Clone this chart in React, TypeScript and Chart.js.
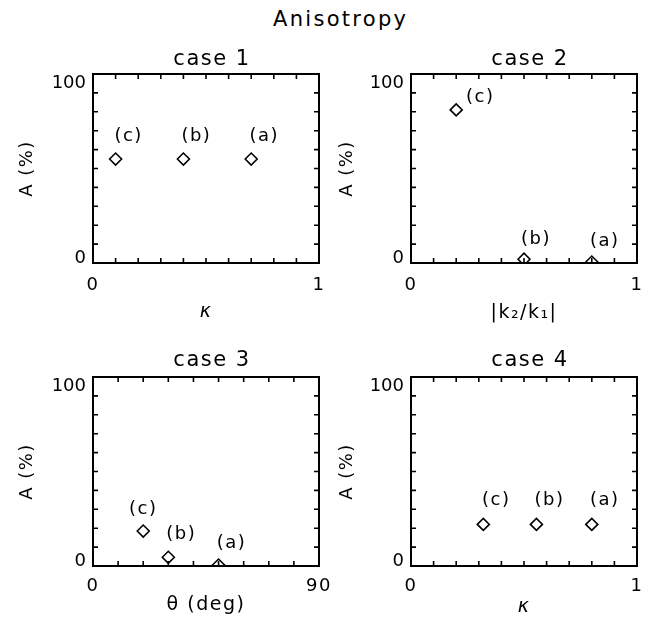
import React, { useEffect, useRef } from 'react';
import { Chart, registerables } from 'chart.js';

Chart.register(...registerables);

// ---------- data ----------
const POINT_LABELS = ['(c)', '(b)', '(a)'];

const CASE1_X = [0.1, 0.4, 0.7];
const CASE1_Y = [55, 55, 55];
const CASE2_X = [0.2, 0.5, 0.8];
const CASE2_Y = [81, 2, 0.5];
const CASE3_X = [20, 30, 50];
const CASE3_Y = [18.5, 4.6, 0.5];
const CASE4_X = [0.32, 0.555, 0.8];
const CASE4_Y = [22, 22, 22];

const UNIT_TICKS = [0, 0.1, 0.2, 0.3, 0.4, 0.5, 0.6, 0.7, 0.8, 0.9, 1];
const UNIT_LABELS = ['0', '1'];
const THETA_TICKS = [0, 10, 20, 30, 40, 50, 60, 70, 80, 90];
const THETA_LABELS = ['0', '90'];
const Y_TICKS = [0, 10, 20, 30, 40, 50, 60, 70, 80, 90, 100];
const Y_LABELS = ['0', '100'];

// ---------- layout / style ----------
const FONT = "'DejaVu Sans', 'Liberation Sans', sans-serif";
const CANVAS_W = 424;
const CANVAS_H = 290;
const AXIS_LEFT = 93;
const PLOT_W = 226;
const PLOT_H = 189;
const PLOT_TOP = 34;
const X_AXIS_H = CANVAS_H - PLOT_TOP - PLOT_H;
const RIGHT_W = CANVAS_W - AXIS_LEFT - PLOT_W;
const COL_X = [0, 318];
const ROW_Y = [40, 343];
const ROW_STYLE = [
  { titleTop: 6.8, titleBottom: 2.0, xTickPad: 12 },
  { titleTop: 5.4, titleBottom: 3.4, xTickPad: 10 },
];
const COL_STYLE = [{ yTitlePad: 16.4 }, { yTitlePad: 18.5 }];

type Panel = {
  title: string;
  xs: number[];
  ys: number[];
  xTicks: number[];
  xLabels: string[];
  xTitle: string;
  xItalic: boolean;
  xTitlePad: number;
  col: number;
  row: number;
  labelOffsets: number[][];
};

const PANELS: Panel[] = [
  {
    title: 'case 1', xs: CASE1_X, ys: CASE1_Y, xTicks: UNIT_TICKS, xLabels: UNIT_LABELS,
    xTitle: 'κ', xItalic: true, xTitlePad: 6.9, col: 0, row: 0,
    labelOffsets: [[13, -23], [13, -23], [13, -23]],
  },
  {
    title: 'case 2', xs: CASE2_X, ys: CASE2_Y, xTicks: UNIT_TICKS, xLabels: UNIT_LABELS,
    xTitle: '|k₂/k₁|', xItalic: false, xTitlePad: 5.2, col: 1, row: 0,
    labelOffsets: [[24, -12.5], [12, -20], [13, -21]],
  },
  {
    title: 'case 3', xs: CASE3_X, ys: CASE3_Y, xTicks: THETA_TICKS, xLabels: THETA_LABELS,
    xTitle: 'θ (deg)', xItalic: false, xTitlePad: 16.5, col: 0, row: 1,
    labelOffsets: [[0, -22], [13, -23], [13, -22]],
  },
  {
    title: 'case 4', xs: CASE4_X, ys: CASE4_Y, xTicks: UNIT_TICKS, xLabels: UNIT_LABELS,
    xTitle: 'κ', xItalic: true, xTitlePad: 14.9, col: 1, row: 1,
    labelOffsets: [[13, -24], [13, -24], [13, -24]],
  },
];

function framePlugin(p: Panel) {
  return {
    id: 'frame' + p.title.replace(' ', ''),
    beforeDraw(chart: any) {
      chart.ctx.letterSpacing = '1.5px';
    },
    afterDraw(chart: any) {
      const { ctx, chartArea: a } = chart;
      const xs = chart.scales.x;
      const ys = chart.scales.y;
      ctx.save();
      ctx.strokeStyle = '#000';
      ctx.lineWidth = 2;
      ctx.strokeRect(a.left, a.top, a.right - a.left, a.bottom - a.top);
      const TL = 5;
      ctx.lineWidth = 1.6;
      ctx.beginPath();
      p.xTicks.slice(1, -1).forEach((v) => {
        const px = xs.getPixelForValue(v);
        ctx.moveTo(px, a.top);
        ctx.lineTo(px, a.top + TL);
        ctx.moveTo(px, a.bottom);
        ctx.lineTo(px, a.bottom - TL);
      });
      Y_TICKS.slice(1, -1).forEach((v) => {
        const py = ys.getPixelForValue(v);
        ctx.moveTo(a.left, py);
        ctx.lineTo(a.left + TL, py);
        ctx.moveTo(a.right, py);
        ctx.lineTo(a.right - TL, py);
      });
      ctx.stroke();

      // y tick labels (IDL style: top label hangs below, bottom label sits above)
      ctx.letterSpacing = '0px';
      ctx.fillStyle = '#000';
      ctx.font = `18px ${FONT}`;
      ctx.textAlign = 'right';
      ctx.textBaseline = 'alphabetic';
      ctx.fillText(Y_LABELS[1], a.left - 7, ys.getPixelForValue(Y_TICKS[Y_TICKS.length - 1]) + 14.2);
      ctx.fillText(Y_LABELS[0], a.left - 7, ys.getPixelForValue(Y_TICKS[0]) + 0.4);

      // point labels
      ctx.letterSpacing = '1.5px';
      ctx.textAlign = 'center';
      ctx.textBaseline = 'middle';
      const meta = chart.getDatasetMeta(0);
      meta.data.forEach((pt: any, i: number) => {
        const off = p.labelOffsets[i];
        ctx.fillText(POINT_LABELS[i], pt.x + off[0], pt.y + off[1]);
      });
      ctx.restore();
    },
  };
}

function makeConfig(p: Panel): any {
  const rs = ROW_STYLE[p.row];
  const cs = COL_STYLE[p.col];
  const last = p.xTicks.length - 1;
  return {
    type: 'scatter',
    data: {
      datasets: [
        {
          data: p.xs.map((x, i) => ({ x, y: p.ys[i] })),
          pointStyle: 'rectRot',
          pointRadius: 6,
          pointBorderWidth: 1.6,
          pointBorderColor: '#000',
          pointBackgroundColor: 'rgba(0,0,0,0)',
          borderColor: '#000',
          backgroundColor: 'rgba(0,0,0,0)',
          showLine: false,
          clip: 0,
        },
      ],
    },
    options: {
      animation: false,
      responsive: false,
      devicePixelRatio: 1,
      events: [],
      layout: { padding: 0, autoPadding: false },
      plugins: {
        legend: { display: false },
        tooltip: { enabled: false },
        title: {
          display: true,
          text: p.title,
          color: '#000',
          font: { family: FONT, size: 21, weight: 'normal', lineHeight: 1.2 },
          padding: { top: rs.titleTop, bottom: rs.titleBottom },
        },
      },
      scales: {
        x: {
          type: 'linear',
          position: 'bottom',
          min: p.xTicks[0],
          max: p.xTicks[last],
          afterBuildTicks: (s: any) => {
            s.ticks = p.xTicks.map((v) => ({ value: v }));
          },
          afterFit: (s: any) => {
            s.height = X_AXIS_H;
          },
          grid: { display: false, drawTicks: false },
          border: { display: false },
          ticks: {
            autoSkip: false,
            maxRotation: 0,
            minRotation: 0,
            color: '#000',
            padding: rs.xTickPad,
            font: { family: FONT, size: 18, lineHeight: 1.2 },
            callback: (_v: any, i: number, ticks: any[]) =>
              i === 0 ? p.xLabels[0] : i === ticks.length - 1 ? p.xLabels[1] : '',
          },
          title: {
            display: true,
            text: p.xTitle,
            color: '#000',
            font: { family: FONT, size: 19, style: p.xItalic ? 'italic' : 'normal', lineHeight: 1.2 },
            padding: { top: 0, bottom: p.xTitlePad },
          },
        },
        y: {
          type: 'linear',
          position: 'left',
          min: Y_TICKS[0],
          max: Y_TICKS[Y_TICKS.length - 1],
          afterBuildTicks: (s: any) => {
            s.ticks = Y_TICKS.map((v) => ({ value: v }));
          },
          afterFit: (s: any) => {
            s.width = AXIS_LEFT;
          },
          grid: { display: false, drawTicks: false },
          border: { display: false },
          ticks: { display: false },
          title: {
            display: true,
            text: 'A (%)',
            color: '#000',
            font: { family: FONT, size: 18, lineHeight: 1.2 },
            padding: { top: cs.yTitlePad, bottom: 0 },
          },
        },
        yR: {
          type: 'linear',
          position: 'right',
          min: Y_TICKS[0],
          max: Y_TICKS[Y_TICKS.length - 1],
          afterFit: (s: any) => {
            s.width = RIGHT_W;
          },
          grid: { display: false, drawTicks: false },
          border: { display: false },
          ticks: { display: false },
        },
      },
    },
    plugins: [framePlugin(p)],
  };
}

function PanelChart({ p }: { p: Panel }) {
  const ref = useRef<HTMLCanvasElement | null>(null);
  useEffect(() => {
    if (!ref.current) return;
    const chart = new Chart(ref.current, makeConfig(p));
    return () => chart.destroy();
  }, [p]);
  return (
    <canvas
      ref={ref}
      width={CANVAS_W}
      height={CANVAS_H}
      style={{
        position: 'absolute',
        left: COL_X[p.col],
        top: ROW_Y[p.row],
        width: CANVAS_W,
        height: CANVAS_H,
        display: 'block',
      }}
    />
  );
}

export default function App() {
  return (
    <div
      style={{
        position: 'fixed',
        left: 0,
        top: 0,
        width: 651,
        height: 627,
        overflow: 'hidden',
        background: '#fff',
      }}
    >
      <div
        style={{
          position: 'absolute',
          left: 273,
          top: 7,
          fontFamily: FONT,
          fontSize: 21,
          letterSpacing: '2.3px',
          whiteSpace: 'nowrap',
          color: '#000',
        }}
      >
        Anisotropy
      </div>
      {PANELS.map((p) => (
        <PanelChart key={p.title} p={p} />
      ))}
    </div>
  );
}
